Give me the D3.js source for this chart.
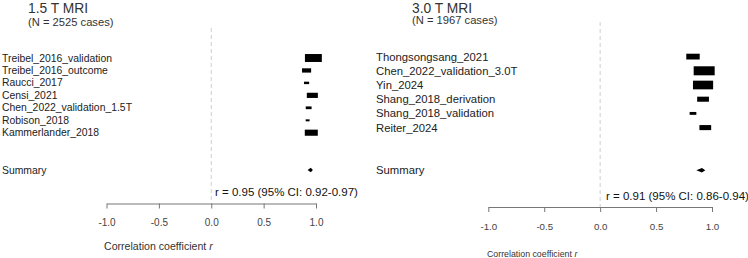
<!DOCTYPE html>
<html>
<head>
<meta charset="utf-8">
<script src="https://cdn.jsdelivr.net/npm/d3@7"></script>
<style>
body{ margin:0; background:white; }
svg text{ font-family: Arial, "Liberation Sans", sans-serif; }
</style>
</head>
<body>
<div id="chart"></div>
<script>
// 1.5 T panel
var studies15 = ["Treibel_2016_validation","Treibel_2016_outcome","Raucci_2017","Censi_2021","Chen_2022_validation_1.5T","Robison_2018","Kammerlander_2018"];
var r15 = [0.975, 0.91, 0.91, 0.965, 0.93, 0.92, 0.955];
var w15 = [26, 14, 8, 17, 9, 6, 20];
var summary15 = [0.95, 0.92, 0.97];

// 3.0 T panel
var studies30 = ["Thongsongsang_2021","Chen_2022_validation_3.0T","Yin_2024","Shang_2018_derivation","Shang_2018_validation","Reiter_2024"];
var r30 = [0.83, 0.93, 0.92, 0.92, 0.83, 0.94];
var w30 = [16, 25, 24, 14, 8, 14];
var summary30 = [0.91, 0.86, 0.94];

var xTicks = [-1, -0.5, 0, 0.5, 1];
var titles = ["1.5 T MRI", "3.0 T MRI"];
var subtitles = ["(N = 2525 cases)", "(N = 1967 cases)"];
var rTexts = ["r = 0.95 (95% CI: 0.92-0.97)", "r = 0.91 (95% CI: 0.86-0.94)"];
var axisTitle = "Correlation coefficient ";

var svg = d3.select('#chart').append('svg')
	.attr('width', 748)
	.attr('height', 258);

function panel(o){
	var g = svg.append('g');
	var x = d3.scaleLinear().domain([-1, 1]).range(o.xRange);
	var y = function(i){ return o.rowY0 + i * o.rowStep; };
	var bw = d3.scaleLinear().domain([0, 100]).range([0, o.boxK]);

	// titles
	g.append('text').attr('x', o.titleX).attr('y', o.titleY)
		.style('font-size', '13.8px').attr('fill', '#333')
		.text(o.title);
	g.append('text').attr('x', o.titleX).attr('y', o.nY)
		.style('font-size', '11.2px').attr('fill', '#333')
		.text(o.sub);

	// zero reference line
	g.append('line')
		.attr('x1', x(0)).attr('x2', x(0))
		.attr('y1', o.dashTop).attr('y2', o.axisY)
		.attr('stroke', '#cfcfcf').attr('stroke-width', 1)
		.attr('stroke-dasharray', '4,3');

	// study labels
	g.selectAll('text.lab').data(o.studies).enter().append('text')
		.attr('class', 'lab')
		.attr('x', o.labelX)
		.attr('y', function(d, i){ return y(i); })
		.attr('dominant-baseline', 'central')
		.style('font-size', o.labelFont + 'px')
		.attr('fill', '#222')
		.text(function(d){ return d; });

	// boxes
	g.selectAll('rect.box').data(o.r).enter().append('rect')
		.attr('class', 'box')
		.attr('x', function(d, i){ return x(d) - bw(o.w[i]) / 2; })
		.attr('y', function(d, i){ return y(i) - bw(o.w[i]) * o.boxH / 2; })
		.attr('width', function(d, i){ return bw(o.w[i]); })
		.attr('height', function(d, i){ return Math.max(2, bw(o.w[i]) * o.boxH); })
		.attr('fill', 'black');

	// summary
	var sy = y(o.studies.length + 2);
	g.append('text').attr('x', o.labelX).attr('y', sy)
		.attr('dominant-baseline', 'central')
		.style('font-size', o.labelFont + 'px').attr('fill', '#222')
		.text('Summary');
	var s = o.summary;
	g.append('path')
		.attr('d', 'M' + x(s[1]) + ',' + sy + 'L' + x(s[0]) + ',' + (sy - 2.2) +
			'L' + x(s[2]) + ',' + sy + 'L' + x(s[0]) + ',' + (sy + 2.2) + 'Z')
		.attr('fill', 'black');

	g.append('text').attr('x', o.rTextX).attr('y', o.rTextY)
		.attr('dominant-baseline', 'central')
		.style('font-size', '11.5px').attr('fill', '#111')
		.text(o.rText);

	// axis
	var ax = g.append('g')
		.attr('transform', 'translate(0,' + o.axisY + ')')
		.call(d3.axisBottom(x).tickValues(xTicks)
			.tickFormat(function(d){ return d.toFixed(1); })
			.tickSize(5).tickSizeOuter(0).tickPadding(o.tickPad));
	ax.select('.domain').attr('stroke', '#777');
	ax.selectAll('.tick line').attr('stroke', '#777');
	ax.selectAll('.tick text')
		.attr('fill', '#444')
		.style('font-size', o.tickFont + 'px')
		.style('font-family', 'Arial, "Liberation Sans", sans-serif');

	var t = g.append('text').attr('x', o.axTitleX).attr('y', o.axTitleY)
		.attr('dominant-baseline', 'central')
		.style('font-size', o.axTitleFont + 'px').attr('fill', '#333')
		.text(axisTitle);
	t.append('tspan').style('font-style', 'italic').text('r');
}

panel({
	studies: studies15, r: r15, w: w15, summary: summary15,
	title: titles[0], sub: subtitles[0], rText: rTexts[0],
	xRange: [106.5, 316], rowY0: 58, rowStep: 12.45,
	labelX: 2, labelFont: 10.4, titleX: 28, titleY: 12.5, nY: 26,
	dashTop: 28, axisY: 203.5, tickPad: 10, tickFont: 10,
	rTextX: 215, rTextY: 192, axTitleX: 104, axTitleY: 246, axTitleFont: 10.6,
	boxK: 65, boxH: 0.47
});

panel({
	studies: studies30, r: r30, w: w30, summary: summary30,
	title: titles[1], sub: subtitles[1], rText: rTexts[1],
	xRange: [488.3, 712], rowY0: 56.6, rowStep: 14.2,
	labelX: 376, labelFont: 11.3, titleX: 412, titleY: 12.5, nY: 24,
	dashTop: 22, axisY: 207, tickPad: 11, tickFont: 9.7,
	rTextX: 606, rTextY: 196, axTitleX: 487, axTitleY: 254, axTitleFont: 8.8,
	boxK: 84, boxH: 0.43
});
</script>
</body>
</html>
